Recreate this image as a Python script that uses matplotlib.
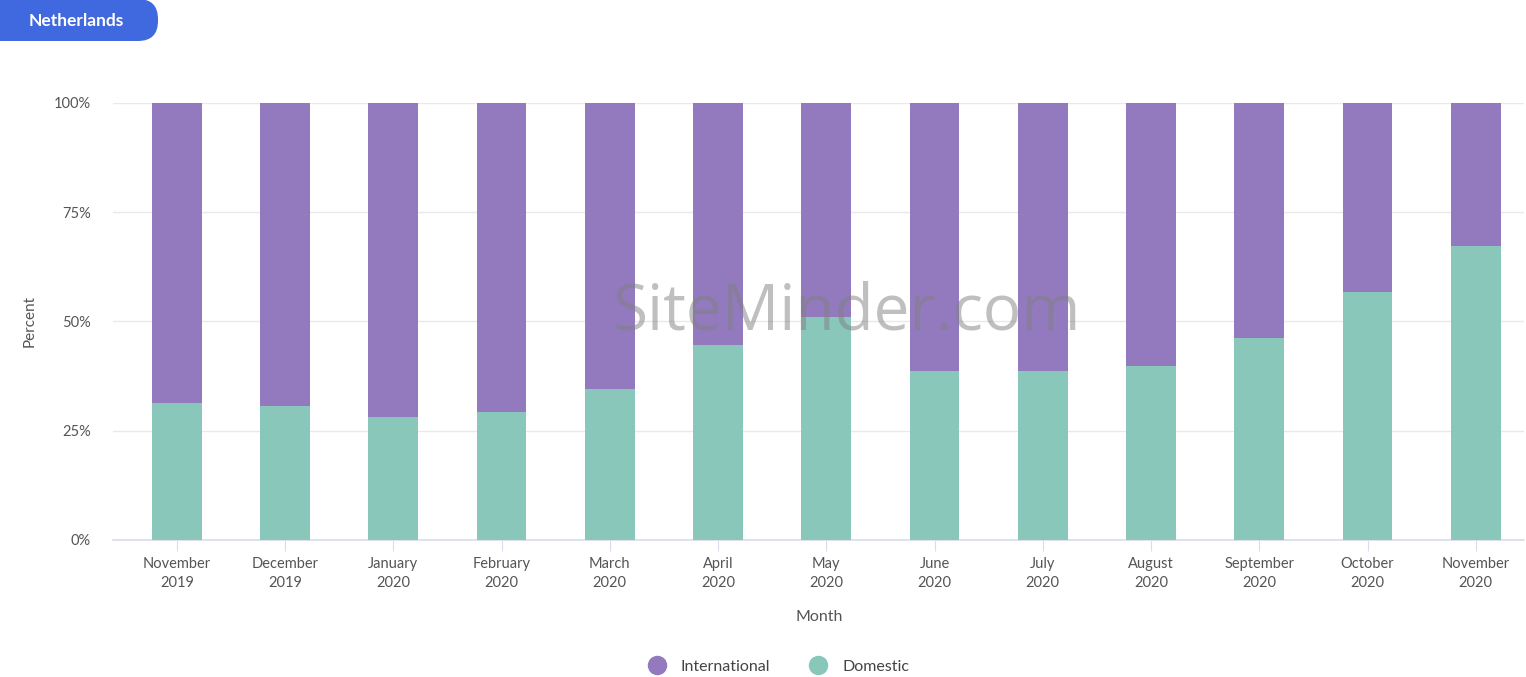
import numpy as np
import matplotlib.pyplot as plt
from matplotlib.lines import Line2D
from matplotlib.patches import FancyBboxPatch

plt.rcParams['font.family'] = ['Lato', 'DejaVu Sans']

months = ['November\n2019', 'December\n2019', 'January\n2020', 'February\n2020',
          'March\n2020', 'April\n2020', 'May\n2020', 'June\n2020', 'July\n2020',
          'August\n2020', 'September\n2020', 'October\n2020', 'November\n2020']
domestic = [31.4, 30.7, 28.1, 29.3, 34.6, 44.6, 51.0, 38.7, 38.7, 39.8, 46.2, 56.8, 67.3]
international = [100 - d for d in domestic]

purple = '#937ABF'
teal = '#8AC7BB'
badge_blue = '#4169DF'

fig = plt.figure(figsize=(15.26, 6.77), dpi=100)
ax = fig.add_axes([0.074, 0.2024, 0.925, 0.6455])

x = np.arange(len(months))
ax.bar(x, domestic, width=0.46, color=teal, zorder=3)
ax.bar(x, international, width=0.46, bottom=domestic, color=purple, zorder=3)

ax.set_ylim(0, 100)
ax.set_xlim(-0.59, 12.45)
ax.set_yticks([0, 25, 50, 75, 100])
ax.set_yticklabels(['0%', '25%', '50%', '75%', '100%'])
ax.set_xticks(x)
ax.set_xticklabels(months)
ax.grid(axis='y', color='#E8E9EF', linewidth=1, zorder=0)
for s in ['top', 'right', 'left']:
    ax.spines[s].set_visible(False)
ax.spines['bottom'].set_color('#D9DCEB')
ax.spines['bottom'].set_linewidth(1.2)
ax.tick_params(axis='y', length=0, pad=16, labelsize=10.5, labelcolor='#555555')
ax.tick_params(axis='x', length=8, color='#D9DCEB', pad=4, labelsize=10.5, labelcolor='#555555')
for lbl in ax.get_xticklabels():
    lbl.set_linespacing(1.5)

ax.set_ylabel('Percent', fontsize=11, color='#555555', labelpad=12)
ax.set_xlabel('Month', fontsize=11.5, color='#555555', labelpad=14)

# watermark
ax.text(0.52, 0.52, 'SiteMinder.com', transform=ax.transAxes, ha='center', va='center',
        fontsize=46, color='#808080', alpha=0.5, zorder=5,
        family=['Open Sans', 'DejaVu Sans'])

# legend
handles = [Line2D([], [], marker='o', linestyle='', markersize=13, color=purple),
           Line2D([], [], marker='o', linestyle='', markersize=13, color=teal)]
fig.legend(handles, ['International', 'Domestic'], loc='center', bbox_to_anchor=(0.508, 0.015),
           ncol=2, frameon=False, fontsize=11.5, handletextpad=0.5, columnspacing=2.0,
           labelcolor='#444444')

# country badge (pixel coordinates)
badge = FancyBboxPatch((-25, 636), 183, 42, boxstyle='round,pad=0,rounding_size=20',
                       transform=None, facecolor=badge_blue, edgecolor='none')
fig.patches.append(badge)
fig.text(76 / 1526, 1 - 21 / 677, 'Netherlands', ha='center', va='center', color='white',
         fontsize=12.5, fontweight='bold')

fig.savefig('out.png', dpi=100)
